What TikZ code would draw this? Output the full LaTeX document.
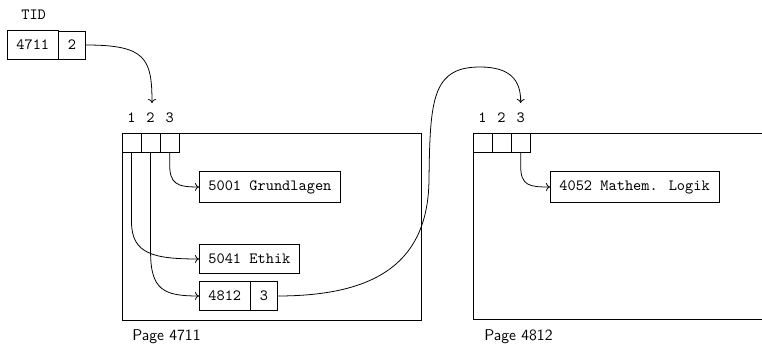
\documentclass[tikz,border=0pt]{standalone}
\usetikzlibrary{calc,arrows.meta}
\begin{document}
\begin{tikzpicture}[x=0.64pt,y=-0.64pt,
  rec/.style={draw, line width=0.5pt, font=\ttfamily, inner xsep=6pt, inner ysep=5.9pt, outer sep=0pt},
  slot/.style={draw, line width=0.5pt, minimum size=12.2pt, inner sep=0pt, outer sep=0pt},
  lbl/.style={font=\ttfamily, inner sep=0pt},
  plbl/.style={font=\sffamily, inner sep=0pt},
  link/.style={-{To[length=2.6pt,width=5pt]}, line width=0.5pt},
  frame/.style={line width=0.5pt}]
\useasboundingbox (0,0) rectangle (762,345);
\clip (0,0) rectangle (762,345);
% TID
\node[lbl, anchor=base west] (tid) at (21,20) {TID};
\node[rec, anchor=west] (tidA) at (7,45) {4711};
\node[rec, anchor=west] (tidB) at (tidA.east) {2};
% Page 4711
\draw[frame] (122,133) rectangle (421,320);
\node[slot, anchor=north west] (a1) at (122,133) {};
\node[slot, anchor=west] (a2) at (a1.east) {};
\node[slot, anchor=west] (a3) at (a2.east) {};
\node[lbl, anchor=base] (la1) at ($(a1.north)+(0,-10)$) {1};
\node[lbl, anchor=base] (la2) at ($(a2.north)+(0,-10)$) {2};
\node[lbl, anchor=base] (la3) at ($(a3.north)+(0,-10)$) {3};
\node[rec, anchor=west] (g) at (199,187) {5001 Grundlagen};
\node[rec, anchor=west] (e) at (199,259) {5041 Ethik};
\node[rec, anchor=west] (pa) at (199,296) {4812};
\node[rec, anchor=west] (pb) at (pa.east) {3};
\node[plbl, anchor=base west] (p1) at (132,341) {Page 4711};
% Page 4812
\draw[frame] (790,133) -- (473,133) -- (473,319) -- (790,319);
\node[slot, anchor=north west] (b1) at (473,133) {};
\node[slot, anchor=west] (b2) at (b1.east) {};
\node[slot, anchor=west] (b3) at (b2.east) {};
\node[lbl, anchor=base] (lb1) at ($(b1.north)+(0,-10)$) {1};
\node[lbl, anchor=base] (lb2) at ($(b2.north)+(0,-10)$) {2};
\node[lbl, anchor=base] (lb3) at ($(b3.north)+(0,-10)$) {3};
\node[rec, anchor=west] (m) at (550,187) {4052 Mathem. Logik};
\node[plbl, anchor=base west] (p2) at (484,341) {Page 4812};
% connectors
\coordinate (t2) at (152,103);
\coordinate (t3) at ($(b3.north)+(0,-30)$);
\draw[link] (tidB.east) .. controls +(60,0) and +(0,-45) .. (t2);
\draw[link] (a3.south) -- ++(0,12) .. controls +(0,20) and +(-22,0) .. (g.west);
\draw[link] (a1.south) -- ++(0,70) .. controls +(0,32) and +(-45,0) .. (e.west);
\draw[link] (a2.south) -- ++(0,100) .. controls +(0,38) and +(-35,0) .. (pa.west);
\draw[link] (b3.south) -- ++(0,14) .. controls +(0,20) and +(-20,0) .. (m.west);
\draw[link] (pb.east) .. controls +(102,0) and (428,260) .. (429,180)
  .. controls (430,100) and (432,67) .. (480,67)
  .. controls (510,67) and (521,80) .. (t3);
\end{tikzpicture}
\end{document}
